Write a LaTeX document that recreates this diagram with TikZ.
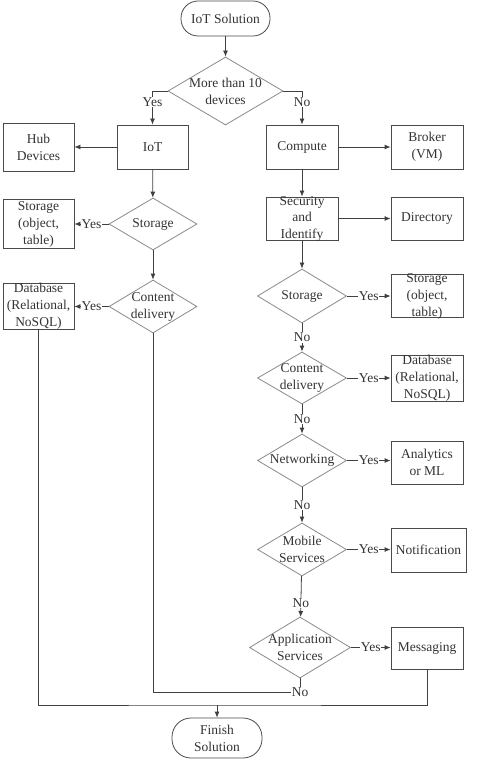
\documentclass[tikz,border=0pt]{standalone}
\usepackage{fontspec}
\setmainfont{Liberation Serif}
\usetikzlibrary{shapes.geometric,arrows.meta}
\definecolor{linec}{HTML}{404040}
\definecolor{diac}{HTML}{8A8A8A}
\definecolor{boxc}{HTML}{4A4A4A}
\definecolor{textc}{HTML}{333333}
\begin{document}
\begin{tikzpicture}[x=1pt,y=-1pt,
  every node/.style={font=\fontsize{13.5}{17}\selectfont, text=textc},
  box/.style={draw=boxc, line width=0.8pt, inner sep=0pt},
  term/.style={draw=boxc, line width=0.8pt, inner sep=0pt, rounded corners=17pt},
  dia/.style={diamond, draw=diac, line width=0.8pt, inner sep=0pt},
  txt/.style={align=center, inner sep=0pt},
  lab/.style={fill=white, inner sep=0.6pt},
  arr/.style={draw=linec, line width=0.8pt, -{Latex[length=6pt,width=5pt]}},
  conn/.style={draw=linec, line width=0.8pt}]
\useasboundingbox (0,0) rectangle (485,759);

% nodes
\node[term, minimum width=89pt, minimum height=35pt] (start) at (225.5,18.5) {};
\node[txt] (startt) at (start) {IoT Solution};
\node[dia, minimum width=115pt, minimum height=68pt] (d1) at (225.5,91) {};
\node[txt] (d1t) at (d1) {More than 10\\devices};

\node[box, minimum width=71pt, minimum height=44pt] (iot) at (152.5,147) {};
\node[txt] (iott) at (iot) {IoT};
\node[box, minimum width=71pt, minimum height=48pt] (hub) at (38.5,147) {};
\node[txt] (hubt) at (hub) {Hub\\Devices};
\node[box, minimum width=72pt, minimum height=44pt] (comp) at (302,147) {};
\node[txt] (compt) at (comp) {Compute};
\node[box, minimum width=72pt, minimum height=44pt] (broker) at (427,147) {};
\node[txt] (brokert) at (broker) {Broker\\(VM)};

\node[dia, minimum width=88pt, minimum height=52pt] (stl) at (153,224) {};
\node[txt] (stlt) at (stl) {Storage};
\node[box, minimum width=71pt, minimum height=49pt] (sbl) at (38.5,224) {};
\node[txt] (sblt) at (sbl) {Storage\\(object,\\table)};
\node[dia, minimum width=88pt, minimum height=53pt] (cdl) at (153,306.5) {};
\node[txt] (cdlt) at (cdl) {Content\\delivery};
\node[box, minimum width=71pt, minimum height=46pt] (dbl) at (38.5,306) {};
\node[txt] (dblt) at (dbl) {Database\\(Relational,\\NoSQL)};

\node[box, minimum width=72pt, minimum height=43pt] (sec) at (302,218.5) {};
\node[txt, font=\fontsize{13.5}{16.5}\selectfont] (sect) at (sec) {Security\\and\\Identify};
\node[box, minimum width=72pt, minimum height=43pt] (dir) at (427,218.5) {};
\node[txt] (dirt) at (dir) {Directory};

\node[dia, minimum width=89pt, minimum height=54pt] (str) at (302,296) {};
\node[txt] (strt) at (str) {Storage};
\node[box, minimum width=72pt, minimum height=43pt] (sbr) at (427,296) {};
\node[txt] (sbrt) at (sbr) {Storage\\(object,\\table)};

\node[dia, minimum width=89pt, minimum height=52pt] (cdr) at (302,378) {};
\node[txt] (cdrt) at (cdr) {Content\\delivery};
\node[box, minimum width=72pt, minimum height=46pt] (dbr) at (427,378) {};
\node[txt] (dbrt) at (dbr) {Database\\(Relational,\\NoSQL)};

\node[dia, minimum width=89pt, minimum height=53pt] (net) at (302,460.5) {};
\node[txt] (nett) at (net) {Networking};
\node[box, minimum width=72pt, minimum height=43pt] (ana) at (427,462.5) {};
\node[txt] (anat) at (ana) {Analytics\\or ML};

\node[dia, minimum width=89pt, minimum height=53pt] (mob) at (302,549.5) {};
\node[txt] (mobt) at (mob) {Mobile\\Services};
\node[box, minimum width=75pt, minimum height=44pt] (noti) at (428.5,550) {};
\node[txt] (notit) at (noti) {Notification};

\node[dia, minimum width=101pt, minimum height=61pt] (app) at (300,647.5) {};
\node[txt] (appt) at (app) {Application\\Services};
\node[box, minimum width=72pt, minimum height=42pt] (msg) at (427,648) {};
\node[txt] (msgt) at (msg) {Messaging};

\node[term, minimum width=90pt, minimum height=40pt, rounded corners=19pt] (fin) at (217,738) {};
\node[txt] (fint) at (fin) {Finish\\Solution};

\coordinate (y692) at (0,692);
\coordinate (bot) at (217,705);

% connectors
\draw[arr] (start) -- (d1);
\draw[arr] (d1.west) -| node[lab, pos=0.66] {Yes} (iot.north);
\draw[arr] (d1.east) -| node[lab, pos=0.66] {No} (comp.north);
\draw[arr] (iot.west) -- (iot.west -| hub.east);
\draw[arr] (comp.east) -- (comp.east -| broker.west);
\draw[arr] (iot) -- (stl);
\draw[arr] (stl.west) -- node[lab] {Yes} (stl.west -| sbl.east);
\draw[arr] (stl) -- (cdl);
\draw[arr] (cdl.west) -- node[lab] {Yes} (cdl.west -| dbl.east);
\draw[arr] (comp) -- (sec);
\draw[arr] (sec.east) -- (sec.east -| dir.west);
\draw[arr] (sec) -- (str);
\draw[arr] (str.east) -- node[lab] {Yes} (str.east -| sbr.west);
\draw[arr] (str) -- node[lab] {No} (cdr);
\draw[arr] (cdr.east) -- node[lab] {Yes} (cdr.east -| dbr.west);
\draw[arr] (cdr) -- node[lab] {No} (net);
\draw[arr] (net.east) -- node[lab] {Yes} (net.east -| ana.west);
\draw[arr] (net) -- node[lab] {No} (mob);
\draw[arr] (mob.east) -- node[lab] {Yes} (mob.east -| noti.west);
\draw[arr] (mob) -- node[lab, pos=0.65] {No} (app);
\draw[arr] (app.east) -- node[lab] {Yes} (app.east -| msg.west);
\draw[conn] (app.south) |- node[lab] {No} (cdl.south |- y692) -- (cdl.south);
\draw[conn] (msg.south) |- (bot) -| (dbl.south);
\draw[arr] (bot) -- (fin);
\end{tikzpicture}
\end{document}
